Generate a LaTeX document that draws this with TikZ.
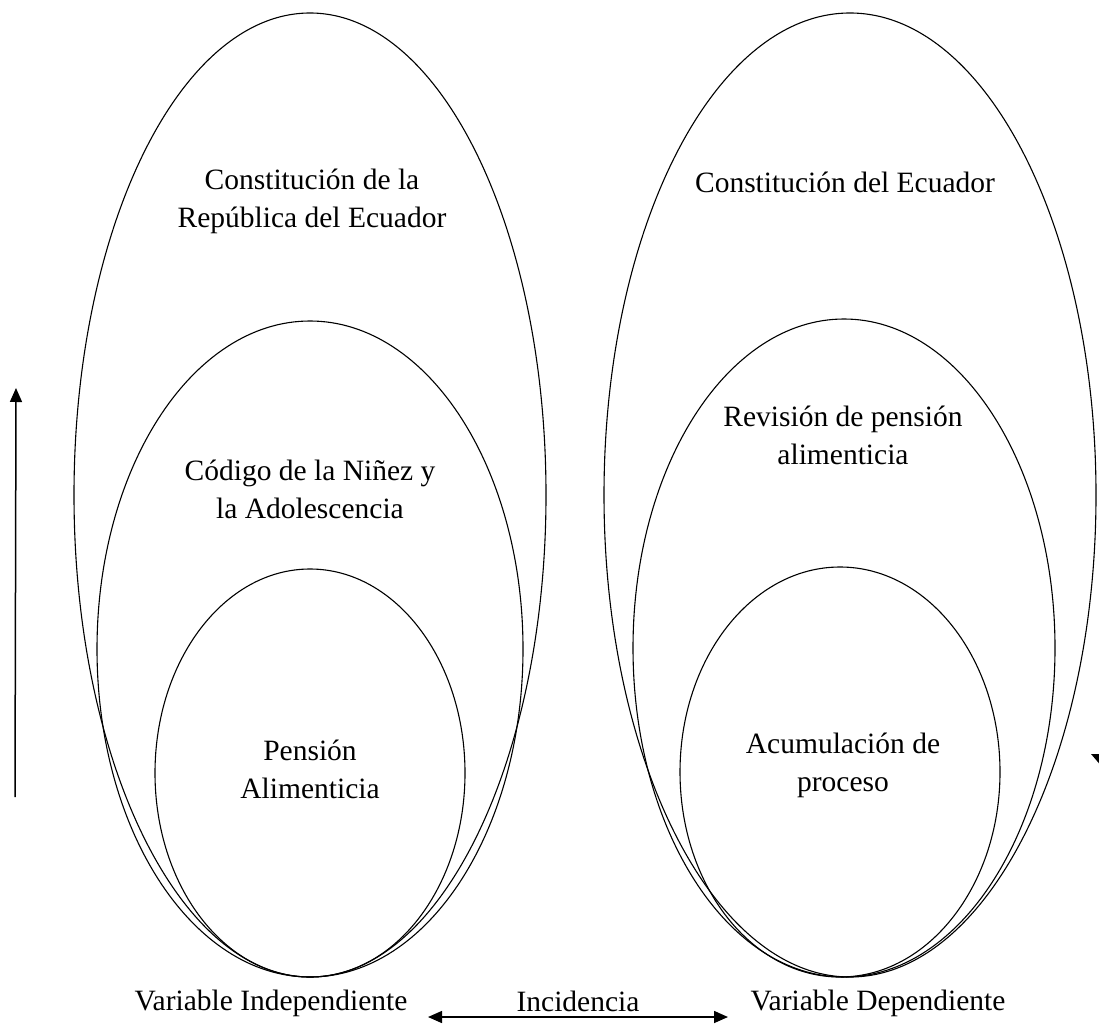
\documentclass[tikz,border=0pt]{standalone}
\usepackage{fontspec}
\setmainfont{Liberation Serif}
\usetikzlibrary{arrows.meta}
\begin{document}
\begin{tikzpicture}[x=1pt,y=-1pt,
  ov/.style={draw=black,line width=1.1pt},
  lbl/.style={align=center,font=\fontsize{29.5pt}{38pt}\selectfont,inner sep=0pt},
  arr/.style={line width=1.5pt,-{Triangle[width=12pt,length=14pt]}},
  darr/.style={line width=1.5pt,{Triangle[width=12pt,length=14pt]}-{Triangle[width=12pt,length=14pt]}}]
\useasboundingbox (0,0) rectangle (1099,1024);
% left group
\draw[ov] (310,495) ellipse [x radius=236pt, y radius=482pt];
\draw[ov] (310,649) ellipse [x radius=213pt, y radius=328pt];
\draw[ov] (310,773) ellipse [x radius=155pt, y radius=204pt];
% right group
\draw[ov] (850,495) ellipse [x radius=246pt, y radius=482pt];
\draw[ov] (844,648) ellipse [x radius=211pt, y radius=329pt];
\draw[ov] (840,772) ellipse [x radius=160pt, y radius=205pt];
% texts
\node[lbl] (c1) at (312,201) {Constitución de la\\República del Ecuador};
\node[lbl] (n1) at (310,489) {Código de la Niñez y\\la Adolescencia};
\node[lbl] (p1) at (310,769) {Pensión\\Alimenticia};
\node[lbl] (c2) at (845,182) {Constitución del Ecuador};
\node[lbl] (r2) at (843,435) {Revisión de pensión\\alimenticia};
\node[lbl] (a2) at (843,765) {Acumulación de\\proceso};
\node[lbl] (vi) at (271,1003) {Variable Independiente};
\node[lbl] (inc) at (578,1001) {Incidencia};
\node[lbl] (vd) at (878,1003) {Variable Dependiente};
% arrows
\coordinate (la) at (15,797);
\coordinate (lb) at (16,388);
\draw[arr] (la) -- (lb);
\coordinate (ba) at (428,1017);
\coordinate (bb) at (728,1017);
\draw[darr] (ba) -- (bb);
\fill (1091,754) -- (1115,754) -- (1103,768) -- cycle;
\end{tikzpicture}
\end{document}
